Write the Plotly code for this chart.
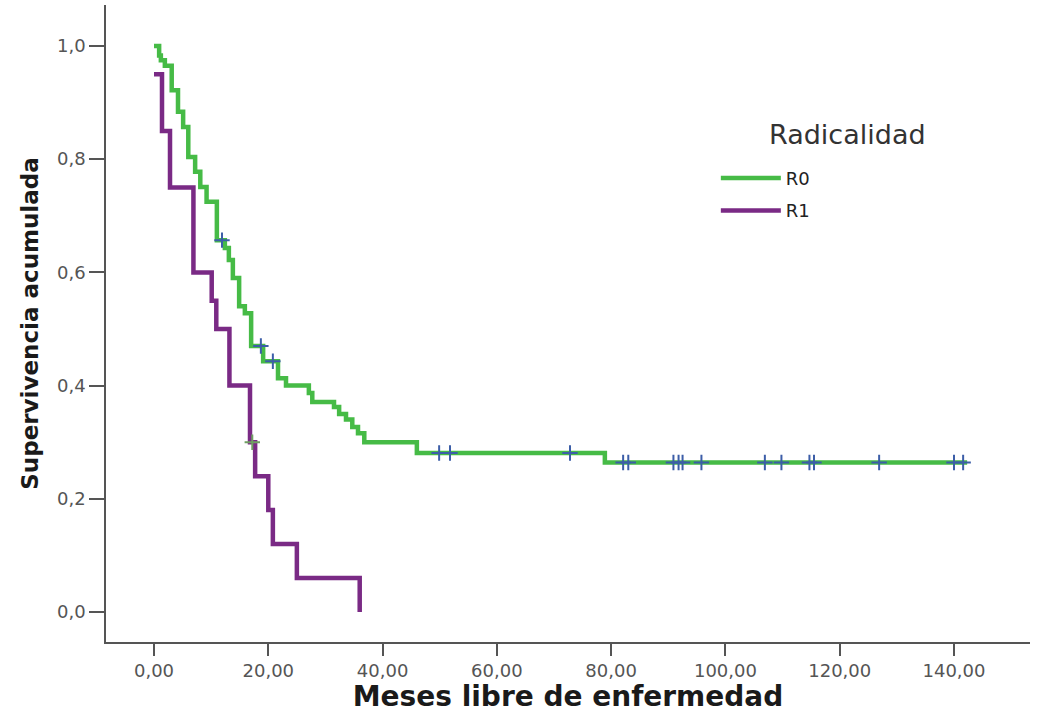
import numpy as np
import plotly.graph_objects as go

# ---- data (Kaplan-Meier step curves) ----
group_names = ["R0", "R1"]

r0_times = [0, 0.9, 1.2, 1.9, 3.1, 4.2, 5.1, 6.0, 7.2, 8.1, 9.2, 11.0, 12.4, 13.1, 13.8,
            14.9, 15.9, 17.0, 19.1, 21.7, 23.1, 27.1, 27.7, 31.5, 32.4, 33.6, 34.7, 35.7,
            36.8, 46.0, 78.9]
r0_surv = [1.0, 0.983, 0.975, 0.965, 0.922, 0.884, 0.857, 0.804, 0.778, 0.751, 0.725, 0.657,
           0.643, 0.622, 0.59, 0.54, 0.528, 0.47, 0.443, 0.413, 0.40, 0.387, 0.371, 0.362,
           0.35, 0.34, 0.327, 0.316, 0.30, 0.281, 0.264]
r0_censored = [11.9, 18.7, 20.8, 49.9, 51.8, 72.8, 82.1, 83.0, 90.9, 91.8, 92.5, 95.8,
               106.9, 109.8, 114.7, 115.5, 126.9, 140.0, 141.6]
r0_last_followup = 142.3

r1_times = [0, 1.4, 2.8, 6.9, 10.1, 10.9, 13.2, 16.8, 17.7, 20.0, 20.8, 25.0, 36.0]
r1_surv = [0.95, 0.85, 0.75, 0.60, 0.55, 0.50, 0.40, 0.30, 0.24, 0.18, 0.12, 0.06, 0.0]
r1_censored = [17.2]

x_tickvals = [0, 20, 40, 60, 80, 100, 120, 140]
x_ticktext = ["0,00", "20,00", "40,00", "60,00", "80,00", "100,00", "120,00", "140,00"]
y_tickvals = [0.0, 0.2, 0.4, 0.6, 0.8, 1.0]
y_ticktext = ["0,0", "0,2", "0,4", "0,6", "0,8", "1,0"]

legend_title = "Radicalidad"
x_title = "Meses libre de enfermedad"
y_title = "Supervivencia acumulada"

green = "#46bb46"
purple = "#7a2a85"
censor_blue = "#3c5ea8"
censor_green = "#6f9f62"


def surv_at(times, surv, t):
    idx = np.searchsorted(np.array(times), np.array(t), side="right") - 1
    return list(np.array(surv)[idx])


fig = go.Figure()

fig.add_trace(go.Scatter(
    x=r0_times + [r0_last_followup], y=r0_surv + [r0_surv[-1]],
    mode="lines", line=dict(color=green, width=4.5, shape="hv"),
    name=group_names[0], legendgroup=group_names[0]))
fig.add_trace(go.Scatter(
    x=r1_times, y=r1_surv,
    mode="lines", line=dict(color=purple, width=4.5, shape="hv"),
    name=group_names[1], legendgroup=group_names[1]))

fig.add_trace(go.Scatter(
    x=r0_censored, y=surv_at(r0_times, r0_surv, r0_censored), mode="markers",
    marker=dict(symbol="cross-thin", size=11, line=dict(color=censor_blue, width=2)),
    showlegend=False, hoverinfo="skip", legendgroup=group_names[0]))
fig.add_trace(go.Scatter(
    x=r1_censored, y=surv_at(r1_times, r1_surv, r1_censored), mode="markers",
    marker=dict(symbol="cross-thin", size=11, line=dict(color=censor_green, width=2)),
    showlegend=False, hoverinfo="skip", legendgroup=group_names[1]))

tick_font = dict(family="DejaVu Sans", size=18, color="#555")
axis_common = dict(showline=True, linecolor="#555", linewidth=1.5, showgrid=False,
                   zeroline=False, ticks="outside", tickcolor="#555", tickwidth=1.5,
                   tickfont=tick_font)

fig.update_xaxes(range=[-8.4, 153.3], tickvals=x_tickvals, ticktext=x_ticktext,
                 ticklen=12,
                 title=dict(text=x_title, standoff=2,
                            font=dict(family="DejaVu Sans", size=28, color="#1a1a1a",
                                      weight="bold")),
                 **axis_common)
fig.update_yaxes(range=[-0.053, 1.0724], tickvals=y_tickvals, ticktext=y_ticktext,
                 ticklen=15,
                 title=dict(text=y_title, standoff=12,
                            font=dict(family="DejaVu Sans", size=23, color="#1a1a1a",
                                      weight="bold")),
                 **axis_common)

fig.update_layout(
    width=1043, height=713,
    margin=dict(l=106, r=13, t=5, b=71, autoexpand=False),
    plot_bgcolor="white", paper_bgcolor="white",
    legend=dict(x=0.66, y=0.757, xanchor="left", yanchor="top",
                bgcolor="rgba(0,0,0,0)",
                font=dict(family="DejaVu Sans", size=18, color="#222"),
                tracegroupgap=6, itemwidth=60),
    showlegend=True,
    annotations=[dict(text=legend_title, xref="paper", yref="paper",
                      x=0.802, y=0.796, xanchor="center", yanchor="middle",
                      showarrow=False,
                      font=dict(family="DejaVu Sans", size=27, color="#333"))],
)

fig.write_html("out.html")
